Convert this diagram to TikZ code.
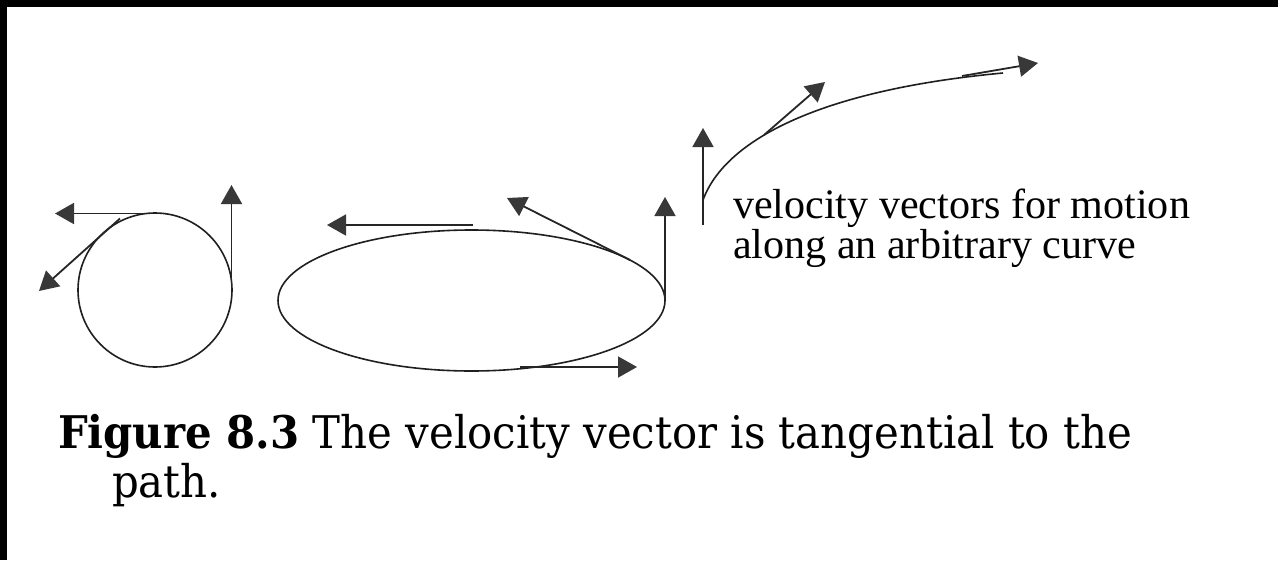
\documentclass[tikz,border=0pt]{standalone}
\usepackage{fontspec}
\setmainfont{Liberation Serif}
\newfontfamily\capfont{DejaVu Serif}
\usetikzlibrary{arrows.meta}
\newsavebox\capboxA
\newsavebox\lblboxA
\begin{document}
\sbox\lblboxA{\fontsize{42pt}{42pt}\selectfont velocity vectors for motion}%
\pgfmathsetmacro\lblsx{457/\wd\lblboxA}%
\sbox\capboxA{\capfont\fontsize{45pt}{45pt}\selectfont\textbf{Figure 8.3} The velocity vector is tangential to the}%
\pgfmathsetmacro\capsx{1074/\wd\capboxA}%
\begin{tikzpicture}[x=1pt,y=-1pt,
  pathline/.style={line width=1.6pt, draw=black!88},
  vec/.style={line width=1.8pt, draw=black!85,
    -{Triangle[length=19pt,width=21pt,color=black!78,fill=black!78]}},
  txt/.style={inner sep=0pt, outer sep=0pt, anchor=base west, text=black}
]
\useasboundingbox (0,0) rectangle (1278,560);
\fill[white] (0,0) rectangle (1278,560);
\fill[black] (0,0) rectangle (1278,7);
\fill[black] (0,0) rectangle (7,560);

% ---- circle ----
\coordinate (cc) at (155,290);
\draw[pathline] (cc) circle[radius=77];
\coordinate (c1s) at (145,213.5);
\coordinate (c1t) at (55,213.5);
\coordinate (c2s) at (120,218.5);
\coordinate (c2t) at (39,291);
\coordinate (c3s) at (231.5,290);
\coordinate (c3t) at (231.5,185);
\draw[vec] (c1s) -- (c1t);
\draw[vec] (c2s) -- (c2t);
\draw[vec] (c3s) -- (c3t);

% ---- ellipse ----
\coordinate (ec) at (471.5,300.5);
\draw[pathline] (ec) ellipse[x radius=193.5, y radius=70.5];
\coordinate (e1s) at (473,225);
\coordinate (e1t) at (327,225);
\coordinate (e2s) at (630,260);
\coordinate (e2t) at (507,198);
\coordinate (e3s) at (665,300);
\coordinate (e3t) at (665,197);
\coordinate (e4s) at (520,367);
\coordinate (e4t) at (637,367);
\draw[vec] (e1s) -- (e1t);
\draw[vec] (e2s) -- (e2t);
\draw[vec] (e3s) -- (e3t);
\draw[vec] (e4s) -- (e4t);

% ---- arbitrary curve ----
\coordinate (a0) at (703,200);
\coordinate (a1) at (1003,73);
\draw[pathline] (a0) .. controls (725,140) and (820,90) .. (a1);
\coordinate (v1s) at (703,225);
\coordinate (v1t) at (703,128);
\coordinate (v2s) at (764,135);
\coordinate (v2t) at (825,82);
\coordinate (v3s) at (962,76);
\coordinate (v3t) at (1038,63);
\draw[vec] (v1s) -- (v1t);
\draw[vec] (v2s) -- (v2t);
\draw[vec] (v3s) -- (v3t);

% ---- label ----
\node[txt] (lbl1) at (733,218) {\scalebox{\lblsx}[1]{\usebox\lblboxA}};
\node[txt] (lbl2) at (733,258) {\scalebox{\lblsx}[1]{\fontsize{42pt}{42pt}\selectfont along an arbitrary curve}};

% ---- caption ----
\node[txt] (cap1) at (58,448) {\scalebox{\capsx}[1]{\usebox\capboxA}};
\node[txt] (cap2) at (112,497) {\scalebox{\capsx}[1]{\capfont\fontsize{45pt}{45pt}\selectfont path.}};
\end{tikzpicture}
\end{document}
